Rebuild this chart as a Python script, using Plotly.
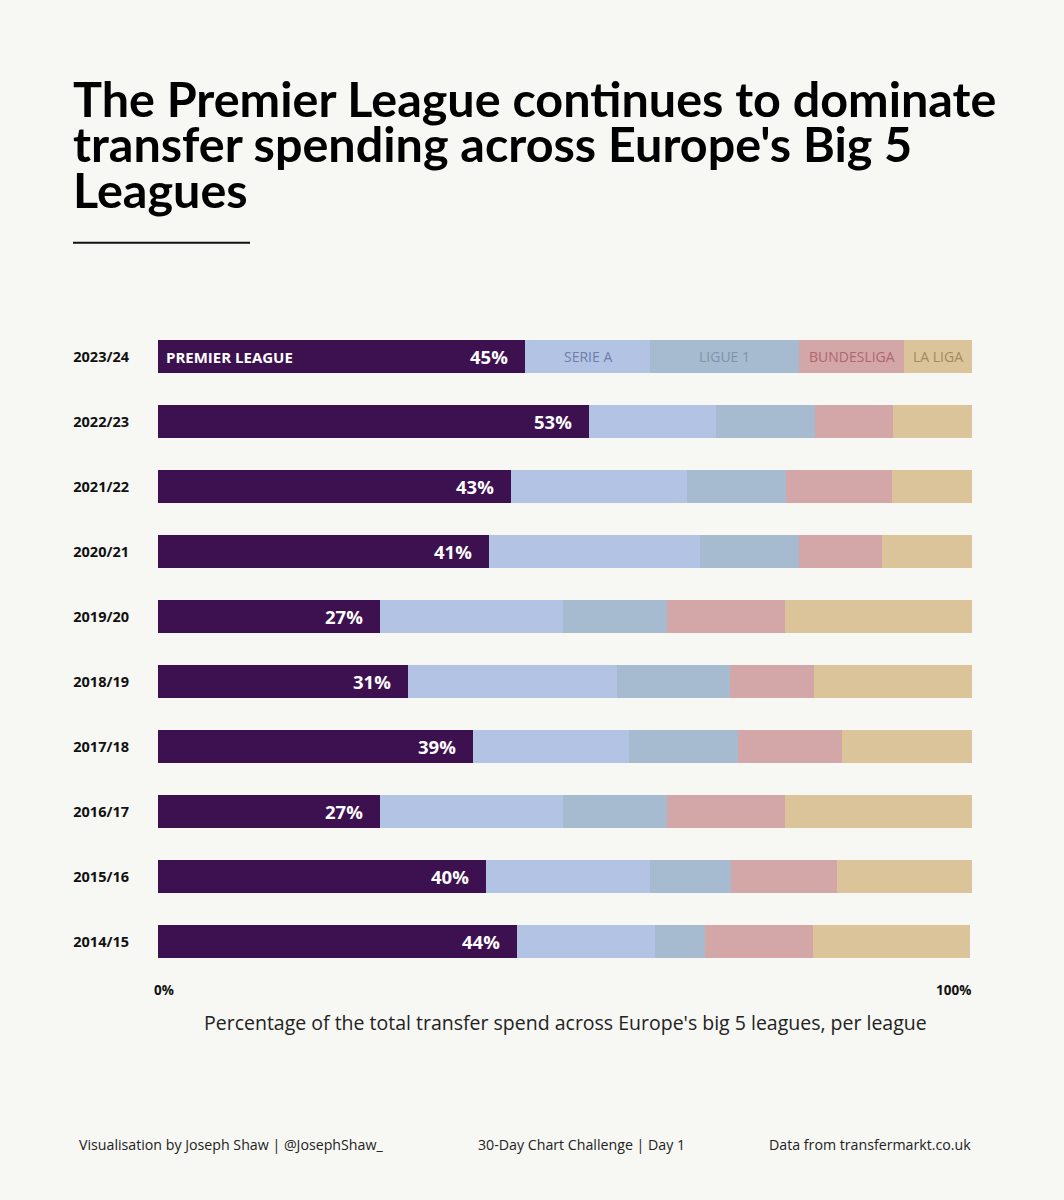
import plotly.graph_objects as go

# seasons, top to bottom
seasons = ["2023/24", "2022/23", "2021/22", "2020/21", "2019/20",
           "2018/19", "2017/18", "2016/17", "2015/16", "2014/15"]

# share of big-5 transfer spend (%)
premier_league = [45.1, 52.9, 43.4, 40.7, 27.3, 30.7, 38.7, 27.3, 40.3, 44.1]
serie_a        = [15.4, 15.6, 21.6, 25.9, 22.4, 25.7, 19.2, 22.4, 20.1, 16.9]
ligue_1        = [18.2, 12.2, 12.2, 12.2, 12.8, 13.9, 13.3, 12.8, 10.0, 6.2]
bundesliga     = [13.0, 9.6, 13.0, 10.2, 14.5, 10.3, 12.8, 14.5, 13.0, 13.3]
la_liga        = [8.3, 9.7, 9.8, 11.0, 23.0, 19.4, 16.0, 23.0, 16.6, 19.3]

leagues = ["PREMIER LEAGUE", "SERIE A", "LIGUE 1", "BUNDESLIGA", "LA LIGA"]
values = [premier_league, serie_a, ligue_1, bundesliga, la_liga]
colors = ["#3d1050", "#b2c3e3", "#a6bad0", "#d3a6a8", "#dbc499"]
label_colors = ["#ffffff", "#6f7ea8", "#7f93ab", "#b0666f", "#a08a5e"]

bg = "#f7f7f3"
body_font = "Open Sans"

W, H = 1064, 1200
L, R, T, B = 158, 92, 323.5, 225.5
PW, PH = W - L - R, H - T - B


# page pixels -> paper coords (paper = plot area)
def px(x):
    return (x - L) / PW


def py(y):
    return (H - B - y) / PH


fig = go.Figure()
for name, vals, col in zip(leagues, values, colors):
    fig.add_trace(go.Bar(
        y=seasons, x=vals, orientation="h", name=name,
        marker=dict(color=col, line=dict(width=0)),
        width=0.51, hoverinfo="x+y+name",
    ))

annotations = []

# percentage labels on the Premier League segment
for s, v in zip(seasons, premier_league):
    annotations.append(dict(
        x=v, y=s, xref="x", yref="y", text=f"{round(v)}%",
        xanchor="right", xshift=-15, showarrow=False,
        font=dict(family=body_font, size=18.5, color="white", weight=700),
    ))

# league names inside the top bar
annotations.append(dict(
    x=0, y=seasons[0], xref="x", yref="y", text=leagues[0],
    xanchor="left", xshift=6, showarrow=False,
    font=dict(family=body_font, size=15, color="white", weight=700),
))
left = premier_league[0]
for i in range(1, 5):
    seg = values[i][0]
    annotations.append(dict(
        x=left + seg / 2, y=seasons[0], xref="x", yref="y", text=leagues[i],
        xanchor="center", showarrow=False,
        font=dict(family=body_font, size=14, color=label_colors[i]),
    ))
    left += seg

# 0% / 100% ends
annotations.append(dict(x=0, y=py(991), xref="x", yref="paper", text="0%",
                        xanchor="left", yanchor="middle", xshift=-6, showarrow=False,
                        font=dict(family=body_font, size=13.5, color="#111", weight=700)))
annotations.append(dict(x=100, y=py(991), xref="x", yref="paper", text="100%",
                        xanchor="right", yanchor="middle", xshift=1, showarrow=False,
                        font=dict(family=body_font, size=13.5, color="#111", weight=700)))

# axis caption
annotations.append(dict(x=0.5, y=py(1023), xref="paper", yref="paper",
                        text="Percentage of the total transfer spend across Europe's big 5 leagues, per league",
                        xanchor="center", yanchor="middle", showarrow=False,
                        font=dict(family=body_font, size=19.5, color="#222")))

# title, one line per annotation for tight line spacing
title_lines = ["The Premier League continues to dominate",
               "transfer spending across Europe's Big 5",
               "Leagues"]
for i, line in enumerate(title_lines):
    annotations.append(dict(
        x=px(71), y=py(97 + i * 45.5), xref="paper", yref="paper",
        text=line, xanchor="left", yanchor="middle", showarrow=False,
        font=dict(family="Lato", size=48.5, color="#000", weight=700),
    ))

# footer
footer = [("Visualisation by Joseph Shaw | @JosephShaw_", 77, "left"),
          ("30-Day Chart Challenge | Day 1", 581, "center"),
          ("Data from transfermarkt.co.uk", 973, "right")]
for text, x, anchor in footer:
    annotations.append(dict(x=px(x), y=py(1145), xref="paper", yref="paper",
                            text=text, xanchor=anchor, yanchor="middle", showarrow=False,
                            font=dict(family=body_font, size=14.2, color="#222")))

fig.update_layout(
    width=W, height=H,
    barmode="stack", showlegend=False,
    paper_bgcolor=bg, plot_bgcolor=bg,
    margin=dict(l=L, r=R, t=T, b=B),
    xaxis=dict(range=[0, 100], showgrid=False, zeroline=False,
               showticklabels=False, fixedrange=True),
    yaxis=dict(range=[9.5, -0.5], showgrid=False, zeroline=False,
               ticks="", ticklabelstandoff=28,
               tickfont=dict(family=body_font, size=14.5, color="#111", weight=700)),
    annotations=annotations,
    shapes=[dict(type="line", xref="paper", yref="paper",
                 x0=px(73), x1=px(250), y0=py(242), y1=py(242),
                 line=dict(color="#111", width=2))],
)

fig.write_html("out.html", config={"displayModeBar": False},
               post_script="document.body.style.margin='0';document.body.style.background='%s';" % bg)
